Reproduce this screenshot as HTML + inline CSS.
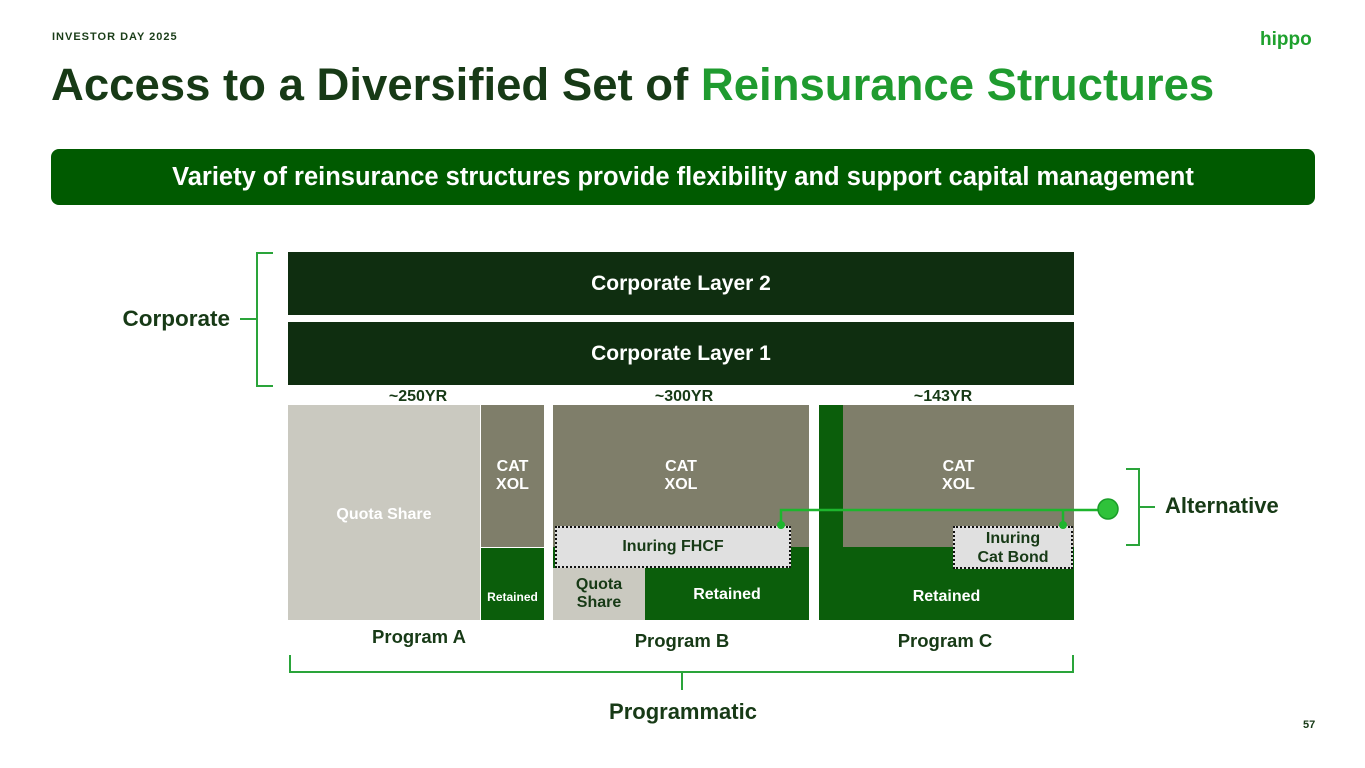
<!DOCTYPE html>
<html><head><style>
body{margin:0;width:1365px;height:768px;background:#fff;position:relative;overflow:hidden;font-family:"Liberation Sans",sans-serif;}
.a{position:absolute;}
.c{display:flex;align-items:center;justify-content:center;text-align:center;font-weight:bold;}
</style></head><body>
<div class="a" style="left:52px;top:31px;font-size:11px;letter-spacing:1px;color:#1a3d18;font-weight:bold">INVESTOR DAY 2025</div>
<div class="a" style="left:1260px;top:29px;font-size:19px;font-weight:bold;color:#1fa12e">hippo</div>
<div class="a" style="left:51px;top:59px;font-size:45.5px;font-weight:bold;color:#173a16;white-space:nowrap">Access to a Diversified Set of <span style="color:#1f9b2f">Reinsurance Structures</span></div>
<div class="a c" style="left:51px;top:149px;width:1264px;height:56px;background:#005a00;border-radius:8px;color:#fff;font-size:25.5px">Variety of reinsurance structures provide flexibility and support capital management</div>

<div class="a c" style="left:288px;top:252px;width:786px;height:63px;background:#0f2e10;color:#fff;font-size:21px">Corporate Layer 2</div>
<div class="a c" style="left:288px;top:322px;width:786px;height:63px;background:#0f2e10;color:#fff;font-size:21px">Corporate Layer 1</div>
<div class="a" style="left:256px;top:252px;width:15px;height:131px;border:2px solid #2aa43a;border-right:none"></div>
<div class="a" style="left:240px;top:318px;width:16px;height:2px;background:#2aa43a"></div>
<div class="a" style="left:90px;top:306px;width:140px;text-align:right;font-size:22.5px;font-weight:bold;color:#173a16">Corporate</div>

<div class="a c" style="left:368px;top:388px;width:100px;font-size:16px;color:#173a16">~250YR</div>
<div class="a c" style="left:634px;top:388px;width:100px;font-size:16px;color:#173a16">~300YR</div>
<div class="a c" style="left:893px;top:388px;width:100px;font-size:16px;color:#173a16">~143YR</div>

<div class="a c" style="left:288px;top:405px;width:192px;height:215px;background:#cac9c0;color:#fff;font-size:16px;padding-top:4px;box-sizing:border-box">Quota Share</div>
<div class="a c" style="left:481px;top:405px;width:63px;height:142px;background:#7f7e6a;color:#fff;font-size:16px">CAT<br>XOL</div>
<div class="a c" style="left:481px;top:548px;width:63px;height:72px;background:#0b5e0b;color:#fff;font-size:12px;align-items:flex-end;padding-bottom:16px;box-sizing:border-box">Retained</div>

<div class="a c" style="left:553px;top:405px;width:256px;height:142px;background:#7f7e6a;color:#fff;font-size:16px">CAT<br>XOL</div>
<div class="a c" style="left:553px;top:547px;width:256px;height:73px;background:#0b5e0b;color:#fff;font-size:16px;padding-left:92px;box-sizing:border-box;padding-top:23px">Retained</div>
<div class="a c" style="left:553px;top:568px;width:92px;height:52px;background:#cac9c0;color:#173a16;font-size:16px">Quota<br>Share</div>
<div class="a c" style="left:555px;top:526px;width:236px;height:42px;background:#e0e0e0;border:2.5px dotted #111;box-sizing:border-box;color:#173a16;font-size:16px">Inuring FHCF</div>

<div class="a c" style="left:819px;top:405px;width:255px;height:215px;background:#0b5e0b;color:#fff;font-size:16px;padding-top:168px;box-sizing:border-box">Retained</div>
<div class="a c" style="left:843px;top:405px;width:231px;height:142px;background:#7f7e6a;color:#fff;font-size:16px">CAT<br>XOL</div>
<div class="a c" style="left:953px;top:526px;width:120px;height:43px;background:#e0e0e0;border:2.5px dotted #111;box-sizing:border-box;color:#173a16;font-size:16px;line-height:19px">Inuring<br>Cat Bond</div>

<svg class="a" style="left:0;top:0" width="1365" height="768">
<polyline points="781,525 781,510 1100,510" fill="none" stroke="#1db52d" stroke-width="2.5"/>
<line x1="1063" y1="510" x2="1063" y2="525" stroke="#1db52d" stroke-width="2.5"/>
<circle cx="781" cy="525" r="4" fill="#1db52d"/>
<circle cx="1063" cy="525" r="4" fill="#1db52d"/>
<circle cx="1108" cy="509" r="10" fill="#2fc23a" stroke="#1a9d28" stroke-width="1.5"/>
<polyline points="1126,469 1139,469 1139,545 1126,545" fill="none" stroke="#2aa43a" stroke-width="2"/>
<line x1="1139" y1="507" x2="1155" y2="507" stroke="#2aa43a" stroke-width="2"/>
<polyline points="290,655 290,672 1073,672 1073,655" fill="none" stroke="#2aa43a" stroke-width="2"/>
<line x1="682" y1="672" x2="682" y2="690" stroke="#2aa43a" stroke-width="2"/>
</svg>
<div class="a" style="left:1165px;top:493px;font-size:22px;font-weight:bold;color:#173a16">Alternative</div>

<div class="a c" style="left:349px;top:626px;width:140px;font-size:18.5px;color:#173a16">Program A</div>
<div class="a c" style="left:612px;top:630px;width:140px;font-size:18.5px;color:#173a16">Program B</div>
<div class="a c" style="left:875px;top:630px;width:140px;font-size:18.5px;color:#173a16">Program C</div>
<div class="a c" style="left:583px;top:699px;width:200px;font-size:22px;color:#173a16">Programmatic</div>
<div class="a" style="left:1303px;top:719px;font-size:11px;font-weight:bold;color:#173a16">57</div>
</body></html>
